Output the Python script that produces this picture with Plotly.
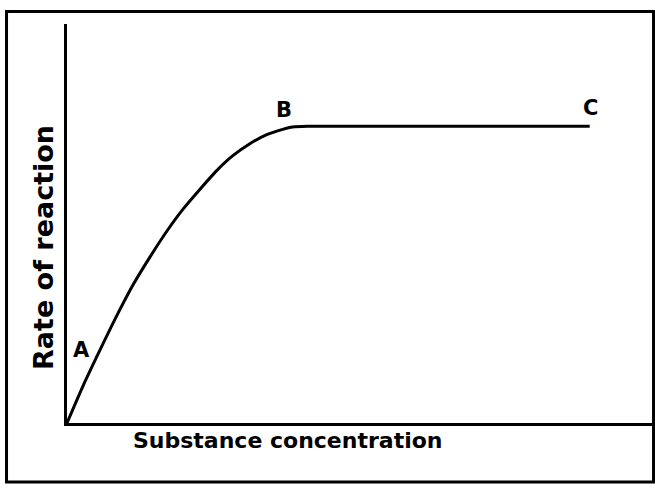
import plotly.graph_objects as go

# Curve data (substance concentration vs rate of reaction)
concentration = [0, 2.8, 5.7, 8.5, 11.3, 14.2, 17.0, 19.8, 22.7, 25.5, 28.3, 31.2, 34.0, 36.8, 38.5, 41.0, 89.2]
rate = [0, 9.5, 18.5, 26.9, 34.7, 41.7, 48.0, 53.6, 58.6, 63.2, 67.0, 70.0, 72.2, 73.6, 74.2, 74.4, 74.4]

# Point labels
point_labels = ["A", "B", "C"]
label_x = [2.4, 37.0, 89.4]
label_y = [18.3, 78.4, 78.9]

x_title = "Substance concentration"
y_title = "Rate of reaction"

FONT = "DejaVu Sans"

fig = go.Figure()
fig.add_trace(go.Scatter(
    x=concentration, y=rate, mode="lines",
    line=dict(color="black", width=3, shape="spline", smoothing=0.6),
    hoverinfo="skip", showlegend=False,
))

annotations = []
for t, x, y in zip(point_labels, label_x, label_y):
    annotations.append(dict(
        x=x, y=y, xref="x", yref="y", text=f"<b>{t}</b>", showarrow=False,
        font=dict(family=FONT, size=21, color="black"),
        xanchor="center", yanchor="middle",
    ))
annotations.append(dict(
    x=0.376, y=-0.045, xref="paper", yref="paper", text=f"<b>{x_title}</b>",
    showarrow=False, font=dict(family=FONT, size=22, color="black"),
    xanchor="center", yanchor="middle",
))
annotations.append(dict(
    x=-0.041, y=0.441, xref="paper", yref="paper", text=f"<b>{y_title}</b>",
    showarrow=False, textangle=-90, font=dict(family=FONT, size=27, color="black"),
    xanchor="center", yanchor="middle",
))

fig.update_layout(
    width=655, height=489,
    margin=dict(l=67, r=2, t=24, b=66),
    paper_bgcolor="white", plot_bgcolor="white",
    xaxis=dict(range=[0, 100], showgrid=False, zeroline=False, showticklabels=False,
               ticks="", showline=True, linecolor="black", linewidth=3, fixedrange=True),
    yaxis=dict(range=[0, 100], showgrid=False, zeroline=False, showticklabels=False,
               ticks="", showline=True, linecolor="black", linewidth=3, fixedrange=True),
    annotations=annotations,
    shapes=[dict(type="rect", xref="paper", yref="paper",
                 x0=-0.1032, x1=1.0009, y0=-0.1479, y1=1.0313,
                 line=dict(color="black", width=3), fillcolor="rgba(0,0,0,0)", layer="below")],
    showlegend=False,
)

fig.write_html("out.html", config={"displayModeBar": False},
               post_script="document.body.style.margin='0';document.body.style.overflow='hidden';")
